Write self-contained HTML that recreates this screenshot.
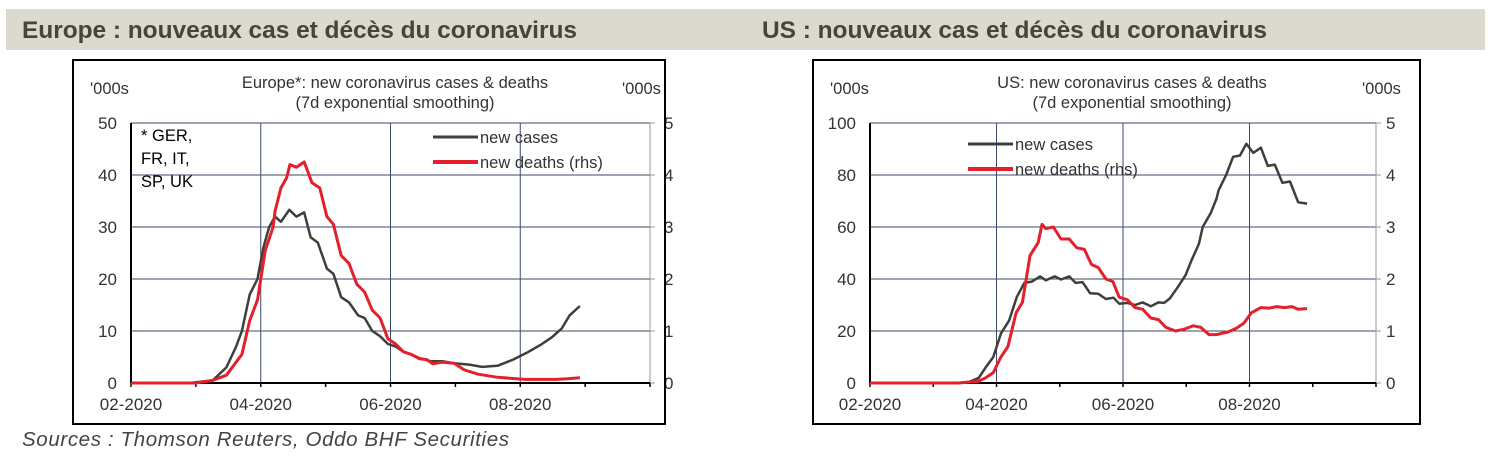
<!DOCTYPE html>
<html><head><meta charset="utf-8"><style>
body{margin:0;background:#fff;width:1493px;height:456px;overflow:hidden;font-family:"Liberation Sans",sans-serif}
</style></head><body>
<svg id="svg" width="1493" height="456" xmlns="http://www.w3.org/2000/svg" font-family="Liberation Sans, sans-serif">
<rect x="6" y="9" width="1479" height="41" fill="#dcd9cf"/>
<text x="22" y="38" font-size="24.5" font-weight="bold" fill="#45453c" textLength="555">Europe : nouveaux cas et décès du coronavirus</text>
<text x="762" y="38" font-size="24.5" font-weight="bold" fill="#45453c" textLength="505">US : nouveaux cas et décès du coronavirus</text>
<text x="22" y="446" font-size="20.5" font-style="italic" fill="#444" textLength="487">Sources : Thomson Reuters, Oddo BHF Securities</text>
<g id="c1"></g>
<g id="c2"></g>
</svg>
<script>
// x values are months since 02-2020 (0 = Feb 1)
const euCaseX=[0,0.9,1.26,1.47,1.62,1.71,1.83,1.95,2.04,2.13,2.22,2.31,2.44,2.55,2.67,2.77,2.88,3.02,3.12,3.24,3.36,3.5,3.6,3.72,3.84,3.96,4.08,4.2,4.32,4.44,4.62,4.8,4.98,5.23,5.41,5.65,5.89,6.1,6.31,6.49,6.64,6.76,6.92];
const euCases=[0,0,0.5,3,7,10,17,20,26,30,32,31,33.3,32,32.8,28,27,22,21,16.5,15.5,13,12.5,10,9,7.5,7,6,5.5,4.8,4.2,4.2,3.8,3.5,3.1,3.3,4.5,5.8,7.3,8.8,10.5,13,14.8];
const euDeathX=[0,1.0,1.26,1.47,1.71,1.83,1.95,2.07,2.19,2.22,2.31,2.4,2.45,2.55,2.67,2.79,2.91,3.02,3.12,3.24,3.36,3.48,3.6,3.72,3.84,3.96,4.08,4.2,4.32,4.44,4.56,4.65,4.8,4.98,5.14,5.35,5.65,6.07,6.55,6.73,6.92];
const euDeaths=[0,0,0.05,0.15,0.55,1.2,1.6,2.55,3.0,3.3,3.75,3.95,4.2,4.15,4.25,3.85,3.75,3.2,3.05,2.45,2.3,1.9,1.75,1.4,1.25,0.85,0.75,0.6,0.55,0.47,0.45,0.37,0.4,0.38,0.25,0.17,0.11,0.07,0.07,0.08,0.1];
const usCaseX=[0,1.4,1.58,1.72,1.83,1.95,2.07,2.2,2.32,2.44,2.56,2.69,2.78,2.92,3.02,3.15,3.25,3.36,3.48,3.61,3.73,3.85,3.94,4.07,4.19,4.31,4.44,4.56,4.65,4.74,4.87,4.99,5.08,5.2,5.26,5.39,5.48,5.51,5.63,5.74,5.85,5.95,6.06,6.18,6.29,6.4,6.52,6.64,6.77,6.91];
const usCases=[0,0,0.5,2,6,10,19,24,33,38.5,39,41,39.5,41,39.8,41,38.5,38.8,34.5,34.3,32.3,32.8,30.5,30.8,30,31,29.5,31,30.8,32.5,37,41.5,47,53.5,60,65.5,71,74,80,87,87.5,92,88.5,90.5,83.5,84,77,77.5,69.5,69];
const usDeathX=[0,1.4,1.71,1.83,1.95,2.07,2.18,2.31,2.41,2.53,2.66,2.72,2.78,2.9,3.02,3.15,3.27,3.39,3.5,3.61,3.73,3.84,3.94,4.07,4.19,4.31,4.44,4.56,4.68,4.83,4.96,5.11,5.23,5.36,5.48,5.66,5.79,5.91,6.03,6.18,6.31,6.43,6.55,6.67,6.77,6.91];
const usDeaths=[0,0,0.03,0.1,0.2,0.5,0.7,1.35,1.55,2.45,2.7,3.05,2.97,3.0,2.77,2.77,2.6,2.57,2.28,2.22,2.0,1.95,1.65,1.6,1.45,1.42,1.25,1.22,1.07,1.0,1.03,1.1,1.07,0.93,0.93,0.98,1.05,1.15,1.35,1.45,1.44,1.47,1.45,1.47,1.42,1.43];
const xTickLabels=["02-2020","04-2020","06-2020","08-2020"];
const euLeftTicks=[0,10,20,30,40,50];
const usLeftTicks=[0,20,40,60,80,100];
const rightTicks=[0,1,2,3,4,5];

const NS="http://www.w3.org/2000/svg";
function mk(parent,tag,attrs,text){const e=document.createElementNS(NS,tag);for(const k in attrs)e.setAttribute(k,attrs[k]);if(text!==undefined)e.textContent=text;parent.appendChild(e);return e;}

function drawChart(g,cfg){
  const L=cfg.plotL,R=cfg.plotR,T=123,B=383;
  const xs=m=>L+(R-L)*m/8;
  const yl=v=>B-(B-T)*v/cfg.leftMax;
  const yr=v=>B-(B-T)*v/5;
  let e;
  cfg.leftTicks.forEach(v=>{
    if(v>0){e=mk(g,'line',{x1:L,x2:R,y1:yl(v),y2:yl(v),stroke:'#3a4a6a','stroke-width':1});
    
    }
    e=mk(g,'text',{x:L-14,y:yl(v)+6,'text-anchor':'end','font-size':17,fill:'#333'},v);
    
    
  });
  rightTicks.forEach(v=>{
    e=mk(g,'text',{x:R+cfg.rLabOff,y:yr(v)+6,'font-size':17,fill:'#333'},v);
    
    
    e=mk(g,'line',{x1:R,x2:R+5,y1:yr(v),y2:yr(v),stroke:'#999'});
    
    
  });
  for(let m=2;m<8;m+=2){
    e=mk(g,'line',{x1:xs(m),x2:xs(m),y1:T,y2:B,stroke:'#3a4a6a','stroke-width':1});
    
    
  }
  for(let m=0;m<=8;m++){
    e=mk(g,'line',{x1:xs(m),x2:xs(m),y1:B,y2:B+4,stroke:'#000','stroke-width':1.5});
    
    
  }
  xTickLabels.forEach((s,i)=>{
    e=mk(g,'text',{x:xs(i*2),y:B+27,'text-anchor':'middle','font-size':17,fill:'#333'},s);
    
    
  });
  e=mk(g,'line',{x1:L,x2:L,y1:T,y2:B,stroke:'#000','stroke-width':2});
  
  
  e=mk(g,'line',{x1:R,x2:R,y1:T,y2:B,stroke:'#999','stroke-width':1});
  
  
  e=mk(g,'line',{x1:L,x2:R,y1:B,y2:B,stroke:'#000','stroke-width':2});
  
  
  e=mk(g,'text',{x:cfg.titleX,y:88,'text-anchor':'middle','font-size':16.5,fill:'#333'},cfg.title);
  
  
  e=mk(g,'text',{x:cfg.titleX,y:108,'text-anchor':'middle','font-size':16.5,fill:'#333'},'(7d exponential smoothing)');
  
  
  e=mk(g,'text',{x:cfg.boxL+17,y:94,'font-size':16.5,fill:'#333'},"'000s");
  
  
  e=mk(g,'text',{x:cfg.rUnitX,y:94,'font-size':16.5,fill:'#333'},"'000s");
  
  
  const pc=cfg.caseX.map((m,i)=>xs(m).toFixed(1)+','+yl(cfg.cases[i]).toFixed(1)).join(' ');
  const pd=cfg.deathX.map((m,i)=>xs(m).toFixed(1)+','+yr(cfg.deaths[i]).toFixed(1)).join(' ');
  e=mk(g,'polyline',{points:pc,fill:'none',stroke:'#3f3f3a','stroke-width':2.5,'stroke-linejoin':'round'});
  
  
  e=mk(g,'polyline',{points:pd,fill:'none',stroke:'#e3202c','stroke-width':3,'stroke-linejoin':'round'});
  
  
  const lx=cfg.legX,ly=cfg.legY;
  e=mk(g,'line',{x1:lx,x2:lx+45,y1:ly,y2:ly,stroke:'#3f3f3a','stroke-width':3});
  
  
  e=mk(g,'text',{x:lx+47,y:ly+6,'font-size':16.5,fill:'#333'},'new cases');
  
  
  e=mk(g,'line',{x1:lx,x2:lx+45,y1:ly+25,y2:ly+25,stroke:'#e3202c','stroke-width':4});
  
  
  e=mk(g,'text',{x:lx+47,y:ly+31,'font-size':16.5,fill:'#333'},'new deaths (rhs)');
  
  
  e=mk(g,'rect',{x:cfg.boxL,y:60,width:cfg.boxW,height:364,fill:'none',stroke:'#000','stroke-width':2});
  
  
}
drawChart(document.getElementById('c1'),{boxL:73,boxW:592,plotL:131,plotR:650,leftMax:50,leftTicks:euLeftTicks,rLabOff:14,
  title:'Europe*: new coronavirus cases  & deaths',titleX:395,rUnitX:622,legX:433,legY:137,
  caseX:euCaseX,cases:euCases,deathX:euDeathX,deaths:euDeaths});
drawChart(document.getElementById('c2'),{boxL:813,boxW:607,plotL:870,plotR:1376,leftMax:100,leftTicks:usLeftTicks,rLabOff:10,
  title:'US: new coronavirus cases  & deaths',titleX:1132,rUnitX:1362,legX:968,legY:144,
  caseX:usCaseX,cases:usCases,deathX:usDeathX,deaths:usDeaths});
const ft=document.getElementById('c1');
[['* GER,',141],['FR, IT,',164],['SP, UK',187]].forEach(([s,y])=>{
  const t=mk(ft,'text',{x:141,y:y,'font-size':16.5,fill:'#000'},s);
  
  
});
</script>
</body></html>
